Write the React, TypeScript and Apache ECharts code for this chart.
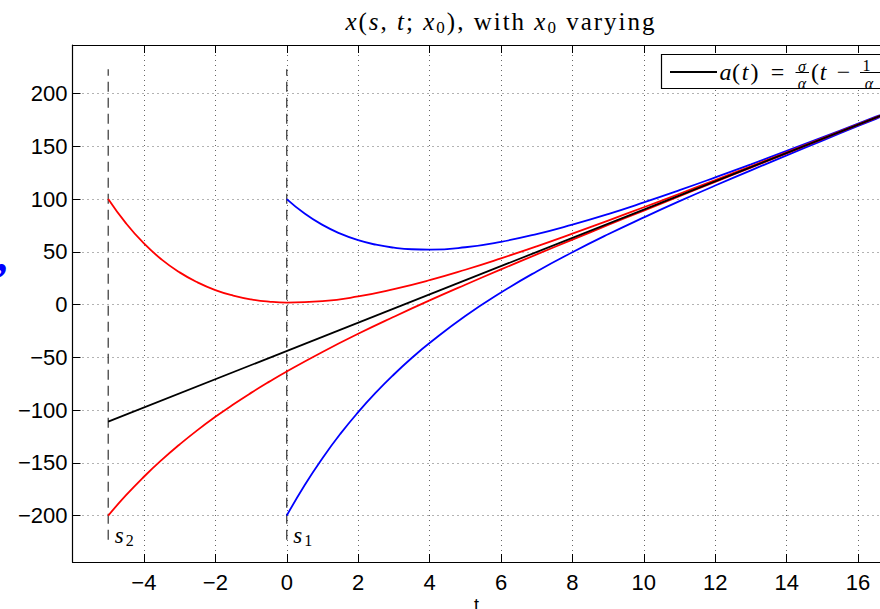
import React, { useEffect, useRef } from "react";
import * as echarts from "echarts";

// ---- data ----
const tS1 = [0, 0.5, 1, 1.5, 2, 2.5, 3, 3.5, 4, 5, 6, 7, 8, 9, 10, 11, 12, 13, 14, 15, 16, 17, 18];
const blueUpper = [100, 86.3, 75.5, 67.2, 61.0, 56.7, 53.9, 52.4, 52.1, 54.3, 59.5, 66.8, 75.8, 85.8, 96.8, 108.4, 120.5, 132.9, 145.6, 158.5, 171.5, 184.6, 197.8];
const blueLower = [-200, -171.2, -145.6, -122.6, -102.0, -83.3, -66.3, -50.7, -36.5, -10.9, 11.4, 31.4, 49.6, 66.6, 82.6, 98.0, 112.8, 127.2, 141.4, 155.4, 169.2, 182.9, 196.6];

const tS2 = [-5, -4.5, -4, -3.5, -3, -2.5, -2, -1.5, -1, -0.5, 0, 1, 2, 3, 4, 5, 6, 7, 8, 9, 10, 11, 12, 13, 14, 15, 16, 17, 18];
const redUpper = [100, 76.9, 57.9, 42.6, 30.5, 21.0, 13.7, 8.5, 4.9, 2.8, 1.9, 3.2, 7.7, 14.6, 23.1, 33.0, 43.8, 55.2, 67.2, 79.6, 92.2, 105.0, 118.0, 131.1, 144.2, 157.5, 170.7, 184.1, 197.4];
const redLower = [-200, -180.7, -163.2, -147.2, -132.6, -119.0, -106.4, -94.7, -83.7, -73.3, -63.4, -44.9, -27.7, -11.6, 3.9, 18.8, 33.3, 47.5, 61.5, 75.4, 89.1, 102.7, 116.3, 129.8, 143.3, 156.8, 170.3, 183.7, 197.1];

const tA = [-5, 18];
const aLine = [-111, 197.2];

const sTimes = [-5, 0];
const sNames = ["2", "1"];
const dashExtent = [-223, 223];

const xRange = [-6, 18];
const yRange = [-244, 246];
const yTicks = [-200, -150, -100, -50, 0, 50, 100, 150, 200];

// title pieces: [text, style] (i = math italic, r = roman, sub = subscript)
const titlePieces: [string, string][] = [
  ["x", "i"], ["(", "r"], ["s", "i"], [", ", "r"], ["t", "i"], ["; ", "r"], ["x", "i"], ["0", "sub"],
  ["), with ", "r"], ["x", "i"], ["0", "sub"], [" varying", "r"],
];

const zip = (xs: number[], ys: number[]) => xs.map((x, i) => [x, ys[i]]);
const fmt = (v: number) => (v < 0 ? "\u2212" + Math.abs(v) : String(v));

const SERIF = "Liberation Serif";
const SANS = "Liberation Sans";

export default function App() {
  const ref = useRef<HTMLDivElement>(null);
  useEffect(() => {
    if (!ref.current) return;
    const chart = echarts.init(ref.current, null, { renderer: "svg" });
    const curve = (data: number[][], color: string) => ({
      type: "line",
      data,
      smooth: true,
      symbol: "none",
      lineStyle: { color, width: 1.8 },
      z: 3,
    });
    const sRich = {
      s: { fontFamily: SERIF, fontStyle: "italic", fontSize: 23, color: "#000", lineHeight: 22 },
      sub: { fontFamily: SERIF, fontSize: 16, color: "#000", padding: [10, 0, 0, 2], lineHeight: 16 },
    };
    const dashSeries = sTimes.map((t, i) => ({
      type: "line",
      data: [[t, dashExtent[0]], [t, dashExtent[1]]],
      symbol: "none",
      lineStyle: { color: "#333", width: 1.2, type: [10, 6] },
      z: 2,
      markPoint: {
        symbol: "circle",
        symbolSize: 1,
        itemStyle: { color: "rgba(0,0,0,0)" },
        label: {
          show: true,
          position: "right",
          distance: 6,
          offset: [0, -4],
          formatter: "{s|s}{sub|" + sNames[i] + "}",
          rich: sRich,
        },
        data: [{ coord: [t, dashExtent[0]] }],
      },
    }));

    const pad = [0, 1, 0, 1];
    const titleRich = {
      i: { fontFamily: SERIF, fontStyle: "italic", fontSize: 25, color: "#000", lineHeight: 26, padding: pad },
      r: { fontFamily: SERIF, fontSize: 25, color: "#000", lineHeight: 26, padding: pad },
      sub: { fontFamily: SERIF, fontSize: 17, color: "#000", padding: [13, 1, 0, 1], lineHeight: 17 },
    };
    const titleText = titlePieces
      .map(([txt, st]) => txt.split("").map((ch) => "{" + st + "|" + ch + "}").join(""))
      .join("");

    const ctext = (x: number, y: number, text: string, font: string) => ({
      type: "text",
      x,
      y,
      z: 11,
      style: {
        text,
        font,
        fill: "#000",
        align: "center",
        verticalAlign: "middle",
        textAlign: "center",
        textVerticalAlign: "middle",
      },
    });
    const IT = "italic 24px " + SERIF;
    const RM = "24px " + SERIF;
    const FR = "italic 16px " + SERIF;

    chart.setOption({
      animation: false,
      grid: { left: 72.5, right: 30.5, top: 45, bottom: 47, containLabel: false },
      xAxis: [
        {
          type: "value",
          min: xRange[0],
          max: xRange[1],
          interval: 2,
          position: "bottom",
          axisLine: { show: true, onZero: false, lineStyle: { color: "#000", width: 1.2 } },
          axisTick: { show: true, inside: true, length: 8, lineStyle: { color: "#000", width: 1 } },
          axisLabel: {
            showMinLabel: false,
            showMaxLabel: false,
            fontSize: 22,
            fontFamily: SANS,
            color: "#000",
            margin: 9,
            formatter: fmt,
          },
          splitLine: { show: true, lineStyle: { color: "#666", type: [1, 4], width: 1 } },
        },
        {
          type: "value",
          min: xRange[0],
          max: xRange[1],
          interval: 2,
          position: "top",
          axisLine: { show: true, onZero: false, lineStyle: { color: "#000", width: 1.2 } },
          axisTick: { show: true, inside: true, length: 8, lineStyle: { color: "#000", width: 1 } },
          axisLabel: { show: false },
          splitLine: { show: false },
        },
      ],
      yAxis: [
        {
          type: "value",
          min: yRange[0],
          max: yRange[1],
          axisLine: { show: true, onZero: false, lineStyle: { color: "#000", width: 1.2 } },
          axisTick: { show: true, inside: true, length: 8, customValues: yTicks, lineStyle: { color: "#000", width: 1 } },
          axisLabel: {
            customValues: yTicks,
            fontSize: 22,
            fontFamily: SANS,
            color: "#000",
            margin: 5,
            formatter: fmt,
          },
          splitLine: { show: true, lineStyle: { color: "#666", type: [1, 4], width: 1 } },
        },
      ],
      series: [
        ...dashSeries,
        curve(zip(tS1, blueUpper), "#0000ff"),
        curve(zip(tS1, blueLower), "#0000ff"),
        curve(zip(tS2, redUpper), "#ff0000"),
        curve(zip(tS2, redLower), "#ff0000"),
        { ...curve(zip(tA, aLine), "#000000"), smooth: false, z: 4 },
      ],
      graphic: [
        {
          type: "text",
          x: 500,
          y: 21,
          style: {
            text: titleText,
            rich: titleRich,
            align: "center",
            verticalAlign: "middle",
            textAlign: "center",
            textVerticalAlign: "middle",
          },
        },
        // legend box
        {
          type: "rect",
          shape: { x: 661.5, y: 54.5, width: 400, height: 34 },
          style: { fill: "#fff", stroke: "#000", lineWidth: 1.2 },
          z: 10,
        },
        {
          type: "line",
          shape: { x1: 670, y1: 72, x2: 717, y2: 72 },
          style: { stroke: "#000", lineWidth: 1.8 },
          z: 11,
        },
        ctext(725.5, 72, "a", IT),
        ctext(736, 72, "(", RM),
        ctext(745, 72, "t", IT),
        ctext(754.5, 72, ")", RM),
        ctext(777.5, 72, "=", RM),
        ctext(802, 66, "\u03c3", FR),
        { type: "line", z: 11, shape: { x1: 795.5, y1: 72.5, x2: 809, y2: 72.5 }, style: { stroke: "#000", lineWidth: 1 } },
        ctext(802, 83, "\u03b1", FR),
        ctext(815, 72, "(", RM),
        ctext(823, 72, "t", IT),
        ctext(843.5, 72, "\u2212", RM),
        ctext(866.5, 65.5, "1", "16px " + SERIF),
        { type: "line", z: 11, shape: { x1: 860, y1: 72.5, x2: 880, y2: 72.5 }, style: { stroke: "#000", lineWidth: 1 } },
        ctext(869, 83, "\u03b1", FR),
        // cropped x-axis label and y-label fragment
        { type: "text", x: 474, y: 596, style: { text: "t.", font: "18px " + SANS, fill: "#000" } },
        { type: "text", x: -4, y: 232, style: { text: ",", font: "bold 46px " + SERIF, fill: "#0000ff" } },
      ],
    });
    return () => chart.dispose();
  }, []);
  return (
    <div style={{ position: "fixed", left: 0, top: 0, width: 880, height: 609, overflow: "hidden", background: "#fff" }}>
      <div ref={ref} style={{ width: 960, height: 609 }} />
    </div>
  );
}
